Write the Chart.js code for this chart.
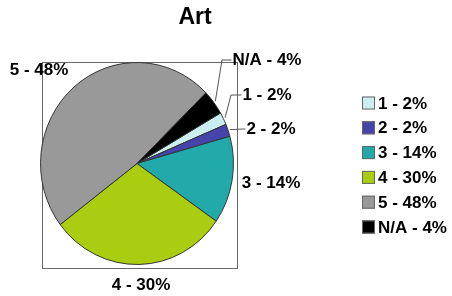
<!DOCTYPE html>
<html>
<head>
<meta charset="utf-8">
<script src="https://cdn.jsdelivr.net/npm/chart.js@4/dist/chart.umd.min.js"></script>
<style>
  body { margin: 0; background: #fff; }
  #artChart { display: block; }
</style>
</head>
<body>
<canvas id="artChart" width="452" height="296"></canvas>
<script>
// chart data
var categories = ['1', '2', '3', '4', '5', 'N/A'];
var percents = [2, 2, 14, 30, 48, 4];
var sliceColors = ['#cceeee', '#4444aa', '#22aaaa', '#aacc11', '#999999', '#000000'];
var chartTitle = 'Art';

// where the slice labels sit (label centre, optional elbow for the leader line)
var labelSpots = [
  {x: 267, y: 95, elbow: [231, 95]},
  {x: 271, y: 129, elbow: [243, 129]},
  {x: 271, y: 183},
  {x: 141, y: 285},
  {x: 39, y: 70},
  {x: 267, y: 60, elbow: [222, 60]}
];

var FONT = 'bold 17px "Liberation Sans", Arial, sans-serif';
var X_SQUASH = 0.955; // the original pie is a little taller than wide

function labelText(i){
  return categories[i] + ' - ' + percents[i] + '%';
}

// squash the pie horizontally around its centre, and draw the frame behind it
var ellipsePlugin = {
  id: 'ellipse',
  beforeDatasetsDraw: function(chart){
    var ctx = chart.ctx;
    var arc = chart.getDatasetMeta(0).data[0];
    ctx.save();
    ctx.strokeStyle = '#666';
    ctx.lineWidth = 1;
    ctx.strokeRect(42.5, 62.5, 195, 206);
    ctx.restore();

    ctx.save();
    ctx.translate(arc.x, arc.y);
    ctx.scale(X_SQUASH, 1);
    ctx.translate(-arc.x, -arc.y);
  },
  afterDatasetsDraw: function(chart){
    chart.ctx.restore();
  }
};

// title, slice labels with leader lines, legend
var decorPlugin = {
  id: 'decor',
  afterDraw: function(chart){
    var ctx = chart.ctx;
    var arcs = chart.getDatasetMeta(0).data;

    ctx.save();
    ctx.fillStyle = '#000';
    ctx.textBaseline = 'middle';

    ctx.font = 'bold 23px "Liberation Sans", Arial, sans-serif';
    ctx.textAlign = 'center';
    ctx.fillText(chartTitle, 195, 18);

    ctx.font = FONT;
    for(var i = 0; i < arcs.length; i++){
      var spot = labelSpots[i];
      var txt = labelText(i);
      ctx.textAlign = 'center';
      ctx.fillText(txt, spot.x, spot.y);

      if(spot.elbow){
        var a = arcs[i];
        var mid = (a.startAngle + a.endAngle) / 2;
        var r = a.outerRadius + 2;
        var sx = a.x + Math.cos(mid) * r * X_SQUASH;
        var sy = a.y + Math.sin(mid) * r;
        var w = ctx.measureText(txt).width;
        ctx.beginPath();
        ctx.strokeStyle = '#555';
        ctx.lineWidth = 1;
        ctx.moveTo(sx, sy);
        ctx.lineTo(spot.elbow[0], spot.elbow[1]);
        ctx.lineTo(spot.x - w / 2 - 1, spot.y);
        ctx.stroke();
      }
    }

    // legend
    ctx.textAlign = 'left';
    for(var j = 0; j < categories.length; j++){
      var ly = 103 + j * 24.8;
      ctx.fillStyle = sliceColors[j];
      ctx.fillRect(362, ly - 6.5, 13, 13);
      ctx.strokeStyle = '#666';
      ctx.lineWidth = 1;
      ctx.strokeRect(362.5, ly - 6, 12, 12);
      ctx.fillStyle = '#000';
      ctx.fillText(labelText(j), 378, ly + 1);
    }
    ctx.restore();
  }
};

var chart = new Chart(document.getElementById('artChart'), {
  type: 'pie',
  data: {
    labels: categories,
    datasets: [{
      data: percents,
      backgroundColor: sliceColors,
      borderColor: '#333',
      borderWidth: 1
    }]
  },
  options: {
    responsive: false,
    animation: false,
    rotation: 60,
    layout: {
      padding: {left: 35, right: 213, top: 62, bottom: 31}
    },
    plugins: {
      legend: {display: false},
      title: {display: false},
      tooltip: {enabled: false}
    }
  },
  plugins: [ellipsePlugin, decorPlugin]
});
</script>
</body>
</html>
